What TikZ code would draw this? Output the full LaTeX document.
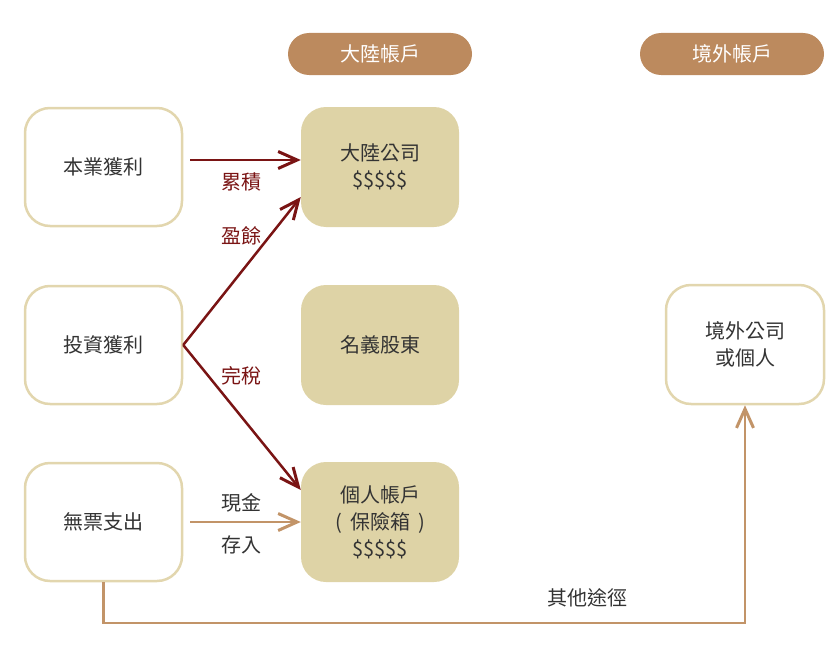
\documentclass[tikz,border=0pt]{standalone}
\usepackage{fontspec}
\setmainfont{Noto Sans CJK TC}
\usetikzlibrary{arrows.meta}
\definecolor{boxline}{HTML}{E2D6AE}
\definecolor{boxfill}{HTML}{DED3A6}
\definecolor{pill}{HTML}{BC8A5E}
\definecolor{darkred}{HTML}{7A1414}
\definecolor{tan}{HTML}{C29468}
\definecolor{txt}{HTML}{333333}
\tikzset{
  base/.style={rectangle, rounded corners=25pt, align=center, text=txt,
    font=\fontsize{20}{27}\selectfont, inner sep=0pt},
  whitebox/.style={base, draw=boxline, line width=2.5pt, fill=white,
    minimum width=157pt, minimum height=118pt},
  fillbox/.style={base, fill=boxfill, minimum width=158pt, minimum height=120pt},
  pillbox/.style={rectangle, rounded corners=21pt, fill=pill, text=white,
    font=\fontsize{20}{27}\selectfont, minimum width=184pt, minimum height=42pt, inner sep=0pt},
  barb/.style={-{Straight Barb[length=19pt, width=17pt, line width=3pt]}},
  redarrow/.style={draw=darkred, line width=2.5pt, barb},
  tanarrow/.style={draw=tan, line width=2.5pt, barb},
  redlabel/.style={text=darkred, font=\fontsize{20}{27}\selectfont, inner sep=0pt},
  graylabel/.style={text=txt, font=\fontsize{20}{27}\selectfont, inner sep=0pt},
}
\begin{document}
\begin{tikzpicture}[x=1pt, y=-1pt]
\useasboundingbox (0,0) rectangle (840,661);
% headers
\node[pillbox] (h1) at (380,54) {大陸帳戶};
\node[pillbox] (h2) at (732,54) {境外帳戶};
% left boxes
\node[whitebox] (b1) at (103.5,167) {本業獲利};
\node[whitebox] (b2) at (103.5,345) {投資獲利};
\node[whitebox] (b3) at (103.5,522) {無票支出};
% middle boxes
\node[fillbox] (m1) at (380,167) {大陸公司\\\$\$\$\$\$};
\node[fillbox] (m2) at (380,345) {名義股東};
\node[fillbox] (m3) at (380,522) {個人帳戶\\(\hspace{8pt}保險箱\hspace{8pt})\\\$\$\$\$\$};
% right box
\node[whitebox, minimum width=158pt, minimum height=119pt] (r) at (745,344.5) {境外公司\\或個人};
% labels
\node[redlabel] (l1) at (241,182) {累積};
\node[redlabel] (l2) at (241,236) {盈餘};
\node[redlabel] (l3) at (241,376) {完稅};
\node[graylabel] (l4) at (241,503) {現金};
\node[graylabel] (l5) at (241,545) {存入};
\node[graylabel] (l6) at (587,598) {其他途徑};
% connectors
\draw[redarrow] ([xshift=7pt,yshift=7pt]b1.east) -- ([yshift=7pt]m1.west);
\draw[redarrow] (b2.east) -- ([yshift=-30pt]m1.west);
\draw[redarrow] (b2.east) -- ([yshift=32pt]m3.west);
\draw[tanarrow] ([xshift=7pt]b3.east) -- (m3.west);
\coordinate (c1) at (103.5,623);
\draw[tanarrow, line join=miter] (b3.south) -- (c1) -| (r.south);
\end{tikzpicture}
\end{document}
